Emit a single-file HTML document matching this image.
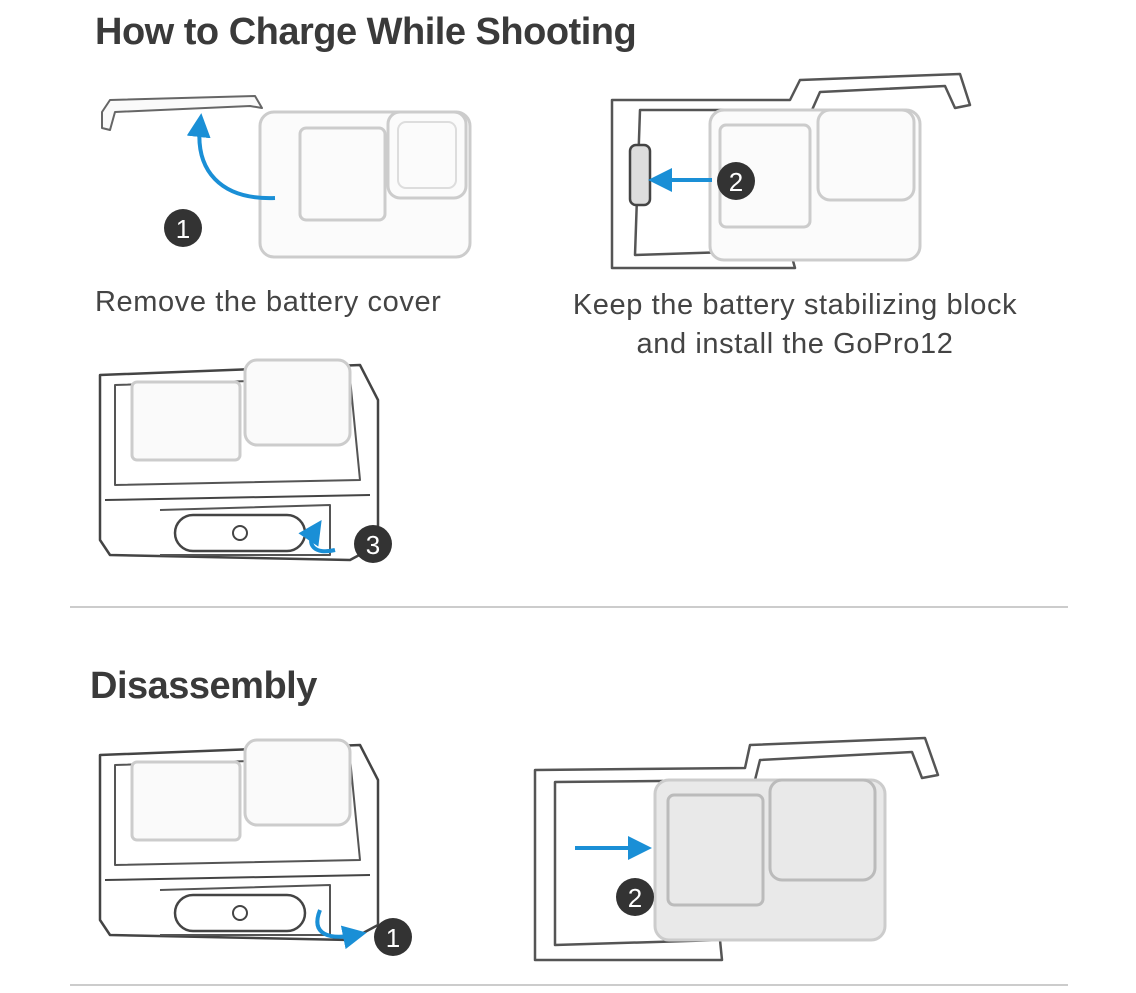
<!DOCTYPE html>
<html><head><meta charset="utf-8"><style>
body{margin:0;background:#fff;width:1136px;height:993px;overflow:hidden;position:relative;font-family:"Liberation Sans",sans-serif}
.t{position:absolute;font-weight:bold;color:#3a3a3a;font-size:38px;letter-spacing:-0.5px}
.c{position:absolute;color:#444;font-size:29px;letter-spacing:0.6px;text-align:center;white-space:nowrap}
svg{position:absolute;left:0;top:0}
</style></head><body>
<svg width="1136" height="993" viewBox="0 0 1136 993" fill="none" stroke-linejoin="round">
<defs>
<marker id="ar" markerWidth="6" markerHeight="6" refX="3" refY="3" orient="auto"><path d="M0,0 L6,3 L0,6 z" fill="#1a8fd6" stroke="none"/></marker>
</defs>
<path d="M102,112 L110,100 L255,96 L262,108 L250,106 L115,112 L110,130 L102,128 z" stroke="#666" stroke-width="2" fill="#fafafa"/>
<rect x="260" y="112" width="210" height="145" rx="14" stroke="#ccc" stroke-width="3" fill="#fbfbfb"/>
<rect x="300" y="128" width="85" height="92" rx="6" stroke="#ccc" stroke-width="3"/>
<rect x="388" y="112" width="78" height="86" rx="12" stroke="#ccc" stroke-width="3"/>
<rect x="398" y="122" width="58" height="66" rx="8" stroke="#ddd" stroke-width="2"/>
<path d="M275,198 C220,200 195,170 200,125" stroke="#1a8fd6" stroke-width="4" marker-end="url(#ar)"/>
<circle cx="183" cy="228" r="19" fill="#333"/>
<text x="183" y="238" fill="#fff" font-size="26" text-anchor="middle" font-family="Liberation Sans">1</text>
<path d="M612,100 L790,100 L800,80 L960,74 L970,105 L955,108 L945,86 L820,92 L812,110 L640,110 L635,255 L790,250 L795,268 L612,268 z" stroke="#555" stroke-width="2.5" fill="#fff"/>
<rect x="710" y="110" width="210" height="150" rx="14" stroke="#ccc" stroke-width="3" fill="#fbfbfb"/>
<rect x="720" y="125" width="90" height="102" rx="6" stroke="#ccc" stroke-width="3"/>
<rect x="818" y="110" width="96" height="90" rx="12" stroke="#ccc" stroke-width="3"/>
<rect x="630" y="145" width="20" height="60" rx="6" stroke="#444" stroke-width="2.5" fill="#ddd"/>
<path d="M712,180 L660,180" stroke="#1a8fd6" stroke-width="4" marker-end="url(#ar)"/>
<circle cx="736" cy="181" r="19" fill="#333"/>
<text x="736" y="191" fill="#fff" font-size="26" text-anchor="middle" font-family="Liberation Sans">2</text>
<g id="cam3">
<path d="M100,375 L360,365 L378,400 L378,545 L350,560 L110,555 L100,540 z" stroke="#444" stroke-width="2.5" fill="#fff"/>
<path d="M115,385 L350,378 L360,480 L115,485 z" stroke="#555" stroke-width="2"/>
<rect x="132" y="382" width="108" height="78" rx="5" stroke="#ccc" stroke-width="3" fill="#fafafa"/>
<rect x="245" y="360" width="105" height="85" rx="12" stroke="#ccc" stroke-width="3" fill="#fafafa"/>
<path d="M105,500 L370,495" stroke="#444" stroke-width="2"/>
<path d="M160,510 L330,505 L330,555 L160,555" stroke="#555" stroke-width="2"/>
<rect x="175" y="515" width="130" height="36" rx="18" stroke="#444" stroke-width="2.5"/>
<circle cx="240" cy="533" r="7" stroke="#444" stroke-width="2"/>
</g>
<path d="M335,550 C315,555 305,545 315,530" stroke="#1a8fd6" stroke-width="4" marker-end="url(#ar)"/>
<circle cx="373" cy="544" r="19" fill="#333"/>
<text x="373" y="554" fill="#fff" font-size="26" text-anchor="middle" font-family="Liberation Sans">3</text>
<line x1="70" y1="607" x2="1068" y2="607" stroke="#bbb" stroke-width="1.5"/>
<use href="#cam3" transform="translate(0,380)"/>
<path d="M320,910 C310,935 330,940 355,935" stroke="#1a8fd6" stroke-width="4" marker-end="url(#ar)"/>
<circle cx="393" cy="937" r="19" fill="#333"/>
<text x="393" y="947" fill="#fff" font-size="26" text-anchor="middle" font-family="Liberation Sans">1</text>
<path d="M535,770 L745,768 L750,745 L925,738 L938,775 L922,778 L912,752 L760,760 L755,780 L555,782 L555,945 L720,940 L722,960 L535,960 z" stroke="#555" stroke-width="2.5" fill="#fff"/>
<rect x="655" y="780" width="230" height="160" rx="14" stroke="#ccc" stroke-width="3" fill="#e9e9e9"/>
<rect x="668" y="795" width="95" height="110" rx="6" stroke="#bbb" stroke-width="3"/>
<rect x="770" y="780" width="105" height="100" rx="12" stroke="#bbb" stroke-width="3"/>
<path d="M575,848 L640,848" stroke="#1a8fd6" stroke-width="4" marker-end="url(#ar)"/>
<circle cx="635" cy="897" r="19" fill="#333"/>
<text x="635" y="907" fill="#fff" font-size="26" text-anchor="middle" font-family="Liberation Sans">2</text>
<line x1="70" y1="985" x2="1068" y2="985" stroke="#bbb" stroke-width="1.5"/>
</svg>
<div class="t" style="left:95px;top:11px">How to Charge While Shooting</div>
<div class="c" style="left:95px;top:286px;text-align:left">Remove the battery cover</div>
<div class="c" style="left:540px;top:286px;width:510px;line-height:39px">Keep the battery stabilizing block<br>and install the GoPro12</div>
<div class="t" style="left:90px;top:665px">Disassembly</div>
</body></html>
